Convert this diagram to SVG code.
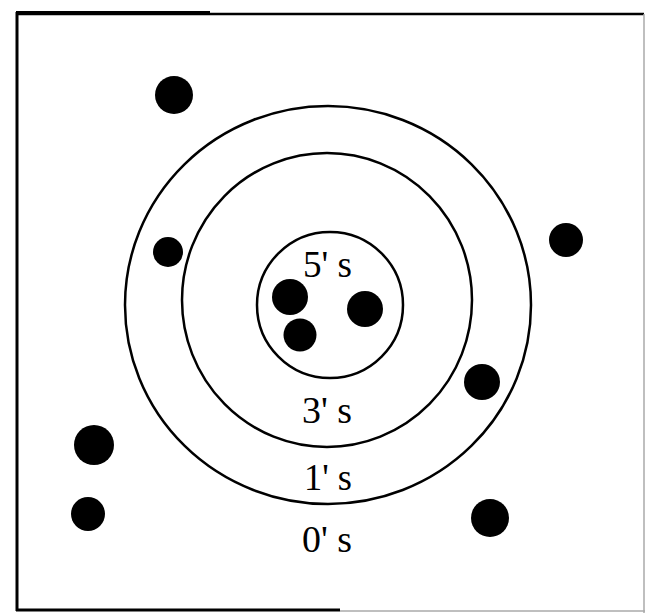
<svg xmlns="http://www.w3.org/2000/svg" width="646" height="613" viewBox="0 0 646 613">
<style>
.ring{fill:none;stroke:#000;stroke-width:2.5}
.dot{fill:#000}
.lbl{font-family:"Liberation Serif","Times New Roman",serif;font-size:37px;fill:#000}
</style>
<rect width="646" height="613" fill="#fff"/>
<g id="frame">
<line x1="17" y1="12" x2="17" y2="611" stroke="#000" stroke-width="3"/>
<line x1="16" y1="14" x2="644" y2="14" stroke="#000" stroke-width="2.5"/>
<line x1="16" y1="13" x2="210" y2="13" stroke="#000" stroke-width="4"/>
<line x1="644" y1="14" x2="644" y2="613" stroke="#aaa" stroke-width="1.5"/>
<line x1="16" y1="610" x2="340" y2="610" stroke="#000" stroke-width="3"/>
<line x1="340" y1="611" x2="645" y2="611" stroke="#aaa" stroke-width="1.5"/>
</g>
<g id="rings">
<g id="ring0"><ellipse class="ring" cx="328" cy="305" rx="203" ry="199"/></g>
<g id="ring1"><ellipse class="ring" cx="327" cy="300" rx="145" ry="147"/></g>
<g id="ring3"><ellipse class="ring" cx="330" cy="305" rx="73" ry="73"/></g>
</g>
<g id="labels">
<text class="lbl" x="303" y="277" textLength="49" lengthAdjust="spacingAndGlyphs">5' s</text>
<text class="lbl" x="302" y="423" textLength="50" lengthAdjust="spacingAndGlyphs">3' s</text>
<text class="lbl" x="304" y="490" textLength="48" lengthAdjust="spacingAndGlyphs">1' s</text>
<text class="lbl" x="302" y="552" textLength="50" lengthAdjust="spacingAndGlyphs">0' s</text>
</g>
<g id="dots">
<circle class="dot" cx="174" cy="95" r="19"/>
<circle class="dot" cx="168" cy="252" r="15"/>
<circle class="dot" cx="566" cy="240" r="17"/>
<circle class="dot" cx="290" cy="297" r="18"/>
<circle class="dot" cx="365" cy="309" r="18"/>
<circle class="dot" cx="300" cy="335" r="16.5"/>
<circle class="dot" cx="482" cy="382" r="18"/>
<circle class="dot" cx="94" cy="445" r="20"/>
<circle class="dot" cx="88" cy="514" r="17"/>
<circle class="dot" cx="490" cy="518" r="19"/>
</g>
</svg>
